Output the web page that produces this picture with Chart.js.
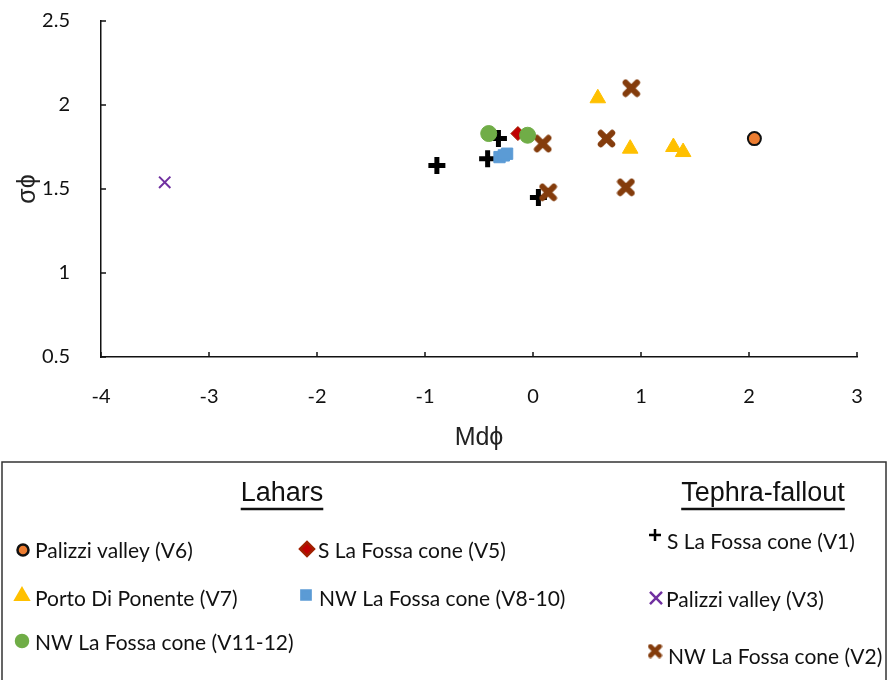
<!DOCTYPE html>
<html>
<head>
<meta charset="utf-8">
<script src="https://cdn.jsdelivr.net/npm/chart.js@4.4.0/dist/chart.umd.min.js"></script>
<style>
  html, body { margin: 0; padding: 0; background: #fff; }
</style>
</head>
<body>
<canvas id="grain-chart" width="887" height="680"></canvas>
<script>
// Md phi (x) and sigma phi (y)
var palizziV6X = [2.05];
var palizziV6Y = [1.80];
var sFossaV5X = [-0.14];
var sFossaV5Y = [1.83];
var portoV7X = [0.60, 0.90, 1.30, 1.39];
var portoV7Y = [2.04, 1.74, 1.75, 1.72];
var nwFossaV8X = [-0.31, -0.27, -0.24];
var nwFossaV8Y = [1.69, 1.70, 1.71];
var nwFossaV11X = [-0.41, -0.05];
var nwFossaV11Y = [1.83, 1.82];
var sFossaV1X = [-0.89, -0.42, -0.32, 0.05];
var sFossaV1Y = [1.64, 1.68, 1.80, 1.45];
var palizziV3X = [-3.41];
var palizziV3Y = [1.54];
var nwFossaV2X = [0.91, 0.68, 0.09, 0.14, 0.86];
var nwFossaV2Y = [2.10, 1.80, 1.77, 1.48, 1.51];

var xTicks = [-4, -3, -2, -1, 0, 1, 2, 3];
var yTicks = [0.5, 1, 1.5, 2, 2.5];
var yTickLabels = ['0.5', '1', '1.5', '2', '2.5'];

function pts(xs, ys) {
  return xs.map(function(x, i){ return {x: x, y: ys[i]}; });
}

// brown "x" marker like the excel one
function makeSandglass(size, color) {
  var c = document.createElement('canvas');
  c.width = size; c.height = size;
  var g = c.getContext('2d');
  var m = size * 0.2;
  g.strokeStyle = color;
  g.lineWidth = size * 0.32;
  g.lineCap = 'round';
  g.beginPath();
  g.moveTo(m, m); g.lineTo(size - m, size - m);
  g.moveTo(size - m, m); g.lineTo(m, size - m);
  g.stroke();
  return c;
}

var brown = '#843C0C';
var sandBig = makeSandglass(19, brown);
var sandSmall = makeSandglass(15, brown);

var datasets = [
  { label: 'Palizzi valley (V6)', data: pts(palizziV6X, palizziV6Y), pointStyle: 'circle', pointRadius: 6.5,
    backgroundColor: '#ED7D31', borderColor: '#111', borderWidth: 2, order: 4 },
  { label: 'S La Fossa cone (V5)', data: pts(sFossaV5X, sFossaV5Y), pointStyle: 'rectRot', pointRadius: 7,
    backgroundColor: '#C00000', borderColor: '#A02000', borderWidth: 1, order: 7 },
  { label: 'Porto Di Ponente (V7)', data: pts(portoV7X, portoV7Y), pointStyle: 'triangle', pointRadius: 9,
    backgroundColor: '#FFC000', borderColor: '#FFC000', borderWidth: 1, order: 3 },
  { label: 'NW La Fossa cone (V8-10)', data: pts(nwFossaV8X, nwFossaV8Y), pointStyle: 'rect', pointRadius: 8,
    backgroundColor: '#5B9BD5', borderColor: '#5B9BD5', borderWidth: 1, order: 2 },
  { label: 'NW La Fossa cone (V11-12)', data: pts(nwFossaV11X, nwFossaV11Y), pointStyle: 'circle', pointRadius: 8,
    backgroundColor: '#70AD47', borderColor: '#70AD47', borderWidth: 1, order: 1 },
  { label: 'S La Fossa cone (V1)', data: pts(sFossaV1X, sFossaV1Y), pointStyle: 'cross', pointRadius: 8.5,
    backgroundColor: '#000', borderColor: '#000', borderWidth: 5, order: 8 },
  { label: 'Palizzi valley (V3)', data: pts(palizziV3X, palizziV3Y), pointStyle: 'crossRot', pointRadius: 8,
    backgroundColor: '#7030A0', borderColor: '#7030A0', borderWidth: 2, order: 5 },
  { label: 'NW La Fossa cone (V2)', data: pts(nwFossaV2X, nwFossaV2Y), pointStyle: sandBig, pointRadius: 9,
    backgroundColor: brown, borderColor: brown, borderWidth: 1, order: 6 }
];

// legend layout: [dataset, marker x, marker y, text x, text y, marker size, line width]
var legendRows = [
  [0, 23, 550, 35, 551, 5.5, 2],
  [2, 22, 596, 35, 599, 7.5, 1],
  [4, 22, 641, 35, 643, 6, 1],
  [1, 307, 549, 318, 551, 7, 1],
  [3, 306, 595, 319, 599, 6.5, 1],
  [5, 655, 535, 667, 542, 6, 3.5],
  [6, 656, 598, 666, 600, 8.5, 2],
  [7, 655, 651, 668, 657, 0, 1]
];

var boxLegend = {
  id: 'boxLegend',
  afterDraw: function(chart) {
    var ctx = chart.ctx;
    ctx.save();
    ctx.strokeStyle = '#333';
    ctx.lineWidth = 1.5;
    ctx.strokeRect(2, 462, 884, 240);

    ctx.fillStyle = '#111';
    ctx.strokeStyle = '#111';
    ctx.textAlign = 'center';
    ctx.textBaseline = 'middle';
    ctx.font = "27px 'Liberation Sans', Arial, sans-serif";
    [['Lahars', 282], ['Tephra-fallout', 763]].forEach(function(h){
      ctx.fillText(h[0], h[1], 494);
      var w = ctx.measureText(h[0]).width;
      ctx.lineWidth = 2.5;
      ctx.beginPath();
      ctx.moveTo(h[1] - w / 2, 509);
      ctx.lineTo(h[1] + w / 2, 509);
      ctx.stroke();
    });

    ctx.textAlign = 'left';
    ctx.font = "21px Lato, 'Open Sans', sans-serif";
    legendRows.forEach(function(r){
      var ds = chart.data.datasets[r[0]];
      ctx.fillStyle = ds.backgroundColor;
      ctx.strokeStyle = ds.borderColor;
      var style = ds.pointStyle === sandBig ? sandSmall : ds.pointStyle;
      Chart.helpers.drawPoint(ctx, {
        pointStyle: style,
        radius: r[5],
        borderWidth: r[6],
        rotation: 0
      }, r[1], r[2]);
      ctx.fillStyle = '#111';
      ctx.fillText(ds.label, r[3], r[4]);
    });
    ctx.restore();
  }
};

// tick marks point inward, drawn from the scales
var innerTicks = {
  id: 'innerTicks',
  afterDatasetsDraw: function(chart) {
    var ctx = chart.ctx, xs = chart.scales.x, ys = chart.scales.y;
    var a = chart.chartArea;
    ctx.save();
    ctx.strokeStyle = '#111';
    ctx.lineWidth = 1.5;
    ctx.beginPath();
    xTicks.forEach(function(v){
      var px = xs.getPixelForValue(v);
      ctx.moveTo(px, a.bottom); ctx.lineTo(px, a.bottom - 5);
    });
    yTicks.forEach(function(v){
      var py = ys.getPixelForValue(v);
      ctx.moveTo(a.left, py); ctx.lineTo(a.left + 5, py);
    });
    ctx.stroke();
    ctx.restore();
  }
};

var tickFont = { family: "Lato, 'Open Sans', sans-serif", size: 20 };
var titleFont = { family: "'Liberation Sans', Arial, sans-serif", size: 25 };

new Chart(document.getElementById('grain-chart'), {
  type: 'scatter',
  data: { datasets: datasets },
  options: {
    responsive: false,
    animation: false,
    layout: { autoPadding: false, padding: { top: 21, right: 30, bottom: 223, left: 0 } },
    plugins: { legend: { display: false }, tooltip: { enabled: false } },
    scales: {
      x: {
        type: 'linear',
        min: xTicks[0],
        max: xTicks[xTicks.length - 1],
        afterBuildTicks: function(s){ s.ticks = xTicks.map(function(v){ return {value: v}; }); },
        afterFit: function(s){ s.height = 100; s.paddingLeft = 0; s.paddingRight = 0; },
        ticks: { color: '#111', font: tickFont, padding: 20 },
        grid: { display: false },
        border: { color: '#111', width: 1.5 },
        title: { display: true, text: 'Mdϕ', color: '#222', font: titleFont, padding: { top: 0, bottom: 4 } }
      },
      y: {
        min: yTicks[0],
        max: yTicks[yTicks.length - 1],
        afterBuildTicks: function(s){ s.ticks = yTicks.map(function(v){ return {value: v}; }); },
        afterFit: function(s){ s.width = 101; s.paddingTop = 0; s.paddingBottom = 0; },
        ticks: {
          color: '#111', font: tickFont, padding: 23,
          callback: function(v){ return yTickLabels[yTicks.indexOf(v)]; }
        },
        grid: { display: false },
        border: { color: '#111', width: 1.5 },
        title: { display: true, text: 'σϕ', color: '#222', font: titleFont, padding: { top: 13, bottom: 0 } }
      }
    }
  },
  plugins: [innerTicks, boxLegend]
});
</script>
</body>
</html>
